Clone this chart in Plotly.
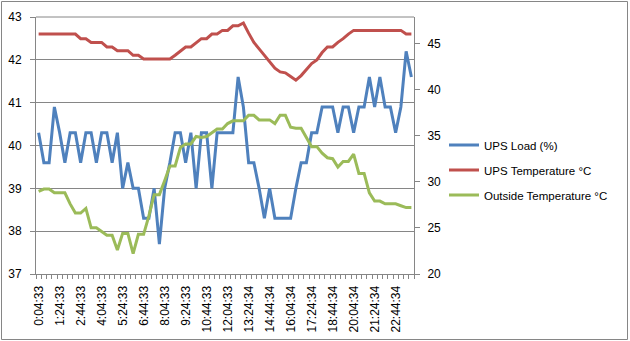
import plotly.graph_objects as go

# ---- data ----
times = []
for i in range(72):
    m = 4 + 20 * i
    times.append(f"{m // 60}:{m % 60:02d}:{33 if i < 38 else 34}")

ups_load = [40.3, 39.6, 39.6, 40.9, 40.3, 39.6, 40.3, 40.3, 39.6, 40.3,
            40.3, 39.6, 40.3, 40.3, 39.6, 40.3, 39.0, 39.6, 39.0, 39.0,
            38.3, 38.3, 39.0, 37.7, 39.0, 39.6, 40.3, 40.3, 39.6, 40.3,
            39.0, 40.3, 40.3, 39.0, 40.3, 40.3, 40.3, 40.3, 41.6, 40.9,
            39.6, 39.6, 39.0, 38.3, 39.0, 38.3, 38.3, 38.3, 38.3, 39.0,
            39.6, 39.6, 40.3, 40.3, 40.9, 40.9, 40.9, 40.3, 40.9, 40.9,
            40.3, 40.9, 40.9, 41.6, 40.9, 41.6, 40.9, 40.9, 40.3, 40.9,
            42.2, 41.6]

ups_temp = [46.0, 46.0, 46.0, 46.0, 46.0, 46.0, 46.0, 46.0, 45.5, 45.5,
            45.1, 45.1, 45.1, 44.6, 44.6, 44.2, 44.2, 44.2, 43.7, 43.7,
            43.3, 43.3, 43.3, 43.3, 43.3, 43.3, 43.7, 44.2, 44.6, 44.6,
            45.1, 45.5, 45.5, 46.0, 46.0, 46.4, 46.4, 46.9, 46.9, 47.2,
            46.1, 45.1, 44.4, 43.7, 42.9, 42.3, 41.9, 41.8, 41.4, 41.0,
            41.5, 42.2, 42.8, 43.2, 44.0, 44.6, 44.6, 45.1, 45.5, 46.0,
            46.4, 46.4, 46.4, 46.4, 46.4, 46.4, 46.4, 46.4, 46.4, 46.4,
            46.0, 46.0]

outside_temp = [28.95, 29.2, 29.2, 28.8, 28.8, 28.8, 27.6, 26.6, 26.6, 27.1,
                25.0, 25.0, 24.6, 24.2, 24.2, 22.6, 24.4, 24.4, 22.2, 24.3,
                24.3, 26.3, 28.6, 28.6, 30.1, 31.7, 31.7, 33.7, 34.1, 34.1,
                34.9, 34.8, 34.9, 35.3, 35.7, 35.7, 36.3, 36.6, 36.6, 36.6,
                37.2, 37.2, 36.7, 36.7, 36.7, 36.3, 37.2, 37.2, 35.9, 35.8,
                35.8, 34.8, 33.8, 33.8, 33.1, 32.6, 32.5, 31.6, 32.2, 32.2,
                33.0, 30.9, 30.9, 28.8, 27.9, 27.9, 27.6, 27.6, 27.6, 27.4,
                27.2, 27.2]

load_ticks = [37, 38, 39, 40, 41, 42, 43]
temp_ticks = [20, 25, 30, 35, 40, 45]
label_every = 4

# ---- figure ----
xs = list(range(len(times)))
tickvals = xs[::label_every]
ticktext = times[::label_every]

GRID = "#868686"
FONT = "Liberation Sans"

fig = go.Figure()
fig.add_trace(go.Scatter(x=xs, y=ups_load, name="UPS Load (%)", mode="lines",
                         line=dict(color="#4F81BD", width=3), legendgroup="a"))
fig.add_trace(go.Scatter(x=xs, y=ups_temp, name="UPS Temperature °C", mode="lines",
                         line=dict(color="#C0504D", width=3), yaxis="y2", legendgroup="b"))
fig.add_trace(go.Scatter(x=xs, y=outside_temp, name="Outside Temperature °C", mode="lines",
                         line=dict(color="#9BBB59", width=3), yaxis="y2", legendgroup="c"))

W, H = 630, 341
L, R, T, B = 36, 216, 17, 67
pw, ph = W - L - R, H - T - B

def px_x(p):
    return (p - L) / pw

def px_y(p):
    return (H - B - p) / ph

fig.update_layout(
    width=W, height=H,
    margin=dict(l=L, r=R, t=T, b=B, pad=0, autoexpand=False),
    paper_bgcolor="white", plot_bgcolor="white",
    font=dict(family=FONT, size=12, color="black"),
    showlegend=True,
    legend=dict(x=px_x(444), xanchor="left", y=px_y(170), yanchor="middle",
                font=dict(family=FONT, size=11.5, color="black"),
                tracegroupgap=6, traceorder="grouped", bgcolor="rgba(0,0,0,0)"),
    xaxis=dict(range=[-0.5, len(times) - 0.5], tickmode="array", tickvals=tickvals,
               ticktext=ticktext, tickangle=-90, showgrid=False, zeroline=False,
               showline=True, linecolor=GRID, linewidth=1, ticks="", automargin=False,
               minor=dict(ticks="outside", tick0=-0.5, dtick=1, ticklen=4,
                          tickcolor=GRID, showgrid=False),
               tickfont=dict(size=12), ticklabelstandoff=6),
    yaxis=dict(range=[37, 43], tickvals=load_ticks, showgrid=True, gridcolor=GRID,
               gridwidth=1, zeroline=False, showline=True, linecolor=GRID, automargin=False,
               ticks="outside", ticklen=5, tickcolor=GRID, tickfont=dict(size=12),
               ticklabelstandoff=6),
    yaxis2=dict(range=[20, 47.85], tickvals=temp_ticks, overlaying="y", side="right",
                showgrid=False, zeroline=False, showline=True, linecolor=GRID, automargin=False,
                ticks="outside", ticklen=5, tickcolor=GRID, tickfont=dict(size=12),
                ticklabelstandoff=5),
    shapes=[
        dict(type="line", xref="paper", yref="paper", x0=0, x1=1, y0=1, y1=1,
             line=dict(color=GRID, width=1)),
        dict(type="rect", xref="paper", yref="paper",
             x0=px_x(1.5), x1=px_x(627.5), y0=px_y(1.5), y1=px_y(339.5),
             line=dict(color=GRID, width=1), fillcolor="rgba(0,0,0,0)", layer="below"),
    ],
)

fig.write_html("out.html")
